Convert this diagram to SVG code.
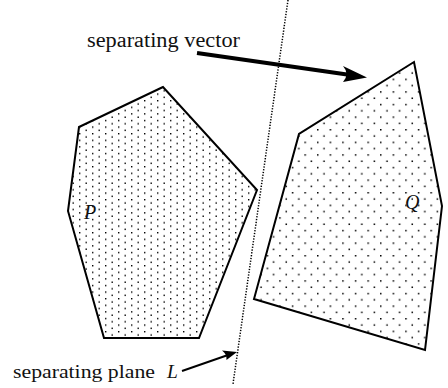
<svg xmlns="http://www.w3.org/2000/svg" width="448" height="388" viewBox="0 0 448 388">
<style>
.poly{stroke:#000;stroke-width:2;stroke-linejoin:miter}
.lbl{font-family:"Liberation Serif","Times New Roman",serif;fill:#111}
.it{font-style:italic}
</style>
<defs>
<pattern id="dotsP" patternUnits="userSpaceOnUse" width="13" height="6.6" x="1" y="1">
<rect x="0" y="0" width="1.4" height="1.4" fill="#000"/>
<rect x="6.5" y="3.3" width="1.4" height="1.4" fill="#000"/>
</pattern>
<pattern id="dotsQ" patternUnits="userSpaceOnUse" width="12.6" height="12.6" x="2" y="3">
<rect x="0" y="0" width="1.5" height="1.5" fill="#000"/>
<rect x="6.3" y="6.3" width="1.5" height="1.5" fill="#000"/>
</pattern>
</defs>
<rect width="448" height="388" fill="#fff"/>
<g id="P">
<polygon class="poly" fill="url(#dotsP)" points="163,87 79,127 68,211 104,338 199,338 257,190"/>
<text class="lbl it" x="84" y="219" font-size="20">P</text>
</g>
<g id="Q">
<polygon class="poly" fill="url(#dotsQ)" points="414,62 299,134 254,299 425,350 442,206"/>
<text class="lbl it" x="405" y="209" font-size="20">Q</text>
</g>
<g id="plane">
<line x1="288" y1="0" x2="233" y2="384" stroke="#000" stroke-width="1.5" stroke-dasharray="1.3,1.5"/>
</g>
<g id="connectors">
<line x1="197" y1="53" x2="354" y2="75.5" stroke="#000" stroke-width="4"/>
<path d="M367,77.5 L343,66 Q350,74 343,82 Z" fill="#000"/>
<line x1="182" y1="371" x2="228" y2="355" stroke="#000" stroke-width="2"/>
<path d="M237,352 L222,350.5 Q227,354 226.5,360 Z" fill="#000"/>
</g>
<g id="labels">
<text class="lbl" x="87" y="47" font-size="20.5" textLength="153" lengthAdjust="spacingAndGlyphs">separating vector</text>
<text class="lbl" x="13" y="378" font-size="19.5" textLength="142" lengthAdjust="spacingAndGlyphs">separating plane</text>
<text class="lbl it" x="167" y="378" font-size="19.5">L</text>
</g>
</svg>
